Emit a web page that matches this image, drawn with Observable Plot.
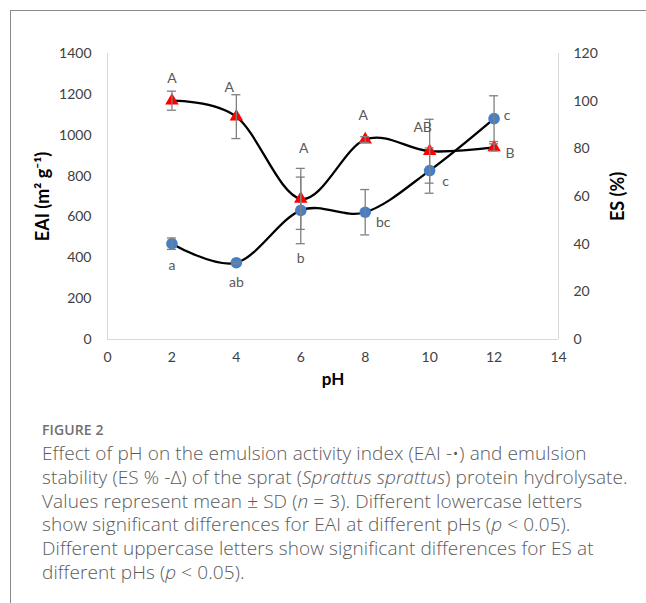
<!DOCTYPE html>
<html>
<head>
<meta charset="utf-8">
<script src="https://cdn.jsdelivr.net/npm/d3@7"></script>
<script src="https://cdn.jsdelivr.net/npm/@observablehq/plot@0.6"></script>
<style>
  html, body { margin: 0; padding: 0; background: #fff; }
  body { width: 646px; height: 603px; position: relative; overflow: hidden; }
  #frame { position: absolute; left: 10px; top: 10px; width: 700px; height: 700px;
           border-left: 1.5px solid #8a8a8a; border-top: 1.5px solid #8a8a8a; }
  #chart { position: absolute; left: 0; top: 0; }
  #caption { position: absolute; left: 42px; top: 420px; width: 620px;
             font-family: "Open Sans", sans-serif; color: #5a5a5a; }
  #caption .fig { font-size: 14px; font-weight: 600; color: #707070; letter-spacing: 0.1px; line-height: 20px; }
  #caption .txt { font-size: 19px; line-height: 23.8px; margin-top: 2px; font-weight: 300; white-space: nowrap; letter-spacing: 0.1px; }
</style>
</head>
<body>
<div id="frame"></div>
<div id="chart"></div>
<div id="caption">
  <div class="fig">FIGURE 2</div>
  <div class="txt">Effect of pH on the emulsion activity index (EAI -•) and emulsion<br>stability (ES % -Δ) of the sprat (<i>Sprattus sprattus</i>) protein hydrolysate.<br>Values represent mean ± SD (<i>n</i> = 3). Different lowercase letters<br>show significant differences for EAI at different pHs (<i>p</i> &lt; 0.05).<br>Different uppercase letters show significant differences for ES at<br>different pHs (<i>p</i> &lt; 0.05).</div>
</div>
<script>
// ---- data ----
const pH = [2, 4, 6, 8, 10, 12];
const eai = [469, 376, 632, 623, 827, 1081];
const eaiSD = [28, 5, 163, 111, 111, 112];
const es = [100.2, 93.5, 59.0, 83.9, 79.0, 80.6];
const esSD = [4.0, 9.2, 12.8, 1.2, 13.4, 1.5];
const eaiLetters = ["a", "ab", "b", "bc", "c", "c"];
const esLetters = ["A", "A", "A", "A", "AB", "B"];
const xTicks = [0, 2, 4, 6, 8, 10, 12, 14];
const yTicks = [0, 200, 400, 600, 800, 1000, 1200, 1400];
const esTicks = [0, 20, 40, 60, 80, 100, 120];

// ---- layout/styling ----
const k = 1400 / 120; // ES (%) -> left-axis units
const rows = pH.map((x, i) => ({
  pH: x, eai: eai[i], eaiSD: eaiSD[i], es: es[i] * k, esSD: esSD[i] * k
}));
const capHalf = 0.14;
const eaiOff = [[0, 22], [0, 20], [0, 48], [18, 10], [16, 11], [13, -3]];
const esOff = [[0, -22], [-7, -29], [3, -50], [-2, -24], [-7, -24], [16, 6]];
const font = "Lato, 'Open Sans', sans-serif";
const grid = "#d9d9d9", errC = "#808080", tickC = "#404040", lblC = "#595959";

const errMarks = (v, sd) => [
  Plot.ruleX(rows, {x: "pH", y1: d => d[v] - d[sd], y2: d => d[v] + d[sd], stroke: errC, strokeWidth: 1.3}),
  Plot.ruleY(rows, {y: d => d[v] - d[sd], x1: d => d.pH - capHalf, x2: d => d.pH + capHalf, stroke: errC, strokeWidth: 1.3}),
  Plot.ruleY(rows, {y: d => d[v] + d[sd], x1: d => d.pH - capHalf, x2: d => d.pH + capHalf, stroke: errC, strokeWidth: 1.3})
];

const chart = Plot.plot({
  width: 646,
  height: 400,
  marginLeft: 107,
  marginRight: 88,
  marginTop: 53,
  marginBottom: 61,
  style: {fontFamily: font, fontSize: "14px", color: tickC, background: "transparent"},
  x: {domain: [0, 14]},
  y: {domain: [0, 1400]},
  marks: [
    Plot.ruleX([0, 14], {stroke: grid, strokeWidth: 1}),
    Plot.ruleY([0], {stroke: grid, strokeWidth: 1}),
    Plot.axisX({ticks: xTicks, tickFormat: d => String(d), tickSize: 0, tickPadding: 13, label: null, fill: tickC, fontSize: 14}),
    Plot.axisY({ticks: yTicks, tickFormat: d => String(d), tickSize: 0, tickPadding: 16, label: null, fill: tickC, fontSize: 14}),
    Plot.axisY({anchor: "right", ticks: esTicks.map(t => t * k), tickFormat: d => String(Math.round(d / k)),
                tickSize: 0, tickPadding: 15, label: null, fill: tickC, fontSize: 14}),
    Plot.line(rows, {x: "pH", y: "eai", curve: "cardinal", stroke: "#000", strokeWidth: 2.3}),
    Plot.line(rows, {x: "pH", y: "es", curve: "cardinal", stroke: "#000", strokeWidth: 2.3}),
    Plot.dot(rows, {x: "pH", y: "eai", r: 5.8, fill: "#4a7ec3", stroke: "none"}),
    Plot.dot(rows, {x: "pH", y: "es", symbol: "triangle", r: 5, fill: "#ff0000", stroke: "none"}),
    ...errMarks("eai", "eaiSD"),
    ...errMarks("es", "esSD"),
    ...eaiLetters.map((t, i) => Plot.text([rows[i]], {x: "pH", y: "eai", text: () => t,
        dx: eaiOff[i][0], dy: eaiOff[i][1], fill: lblC, fontSize: 14})),
    ...esLetters.map((t, i) => Plot.text([rows[i]], {x: "pH", y: "es", text: () => t,
        dx: esOff[i][0], dy: esOff[i][1], fill: lblC, fontSize: 14})),
    Plot.text(["EAI (m² g⁻¹)"], {frameAnchor: "left", textAnchor: "middle", dx: -64, rotate: -90, fontWeight: "bold", fontSize: 18, fill: "#000"}),
    Plot.text(["ES (%)"], {frameAnchor: "right", textAnchor: "middle", dx: 60, rotate: -90, fontWeight: "bold", fontSize: 18, fill: "#000"}),
    Plot.text(["pH"], {frameAnchor: "bottom", dy: 45, fontWeight: "bold", fontSize: 17, fill: "#000"})
  ]
});
document.getElementById("chart").appendChild(chart);
</script>
</body>
</html>
